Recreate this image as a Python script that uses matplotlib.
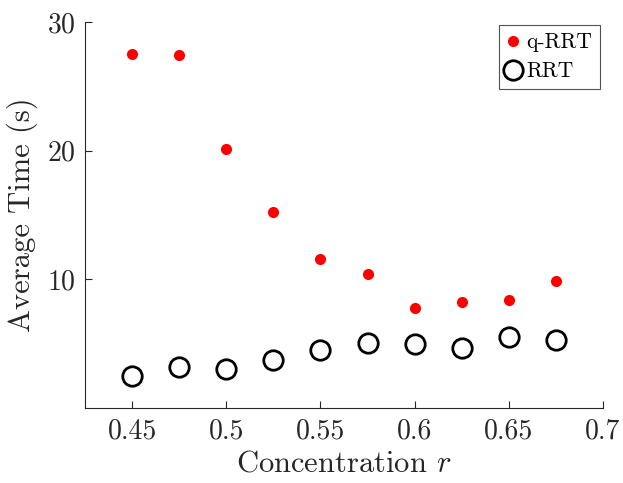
import matplotlib
matplotlib.use("Agg")
import matplotlib.pyplot as plt

plt.rcParams['font.family'] = 'serif'
plt.rcParams['font.serif'] = ['cmr10']
plt.rcParams['mathtext.fontset'] = 'cm'
plt.rcParams['axes.formatter.use_mathtext'] = True

r = [0.45, 0.475, 0.5, 0.525, 0.55, 0.575, 0.6, 0.625, 0.65, 0.675]
q_rrt = [27.55, 27.4, 20.1, 15.2, 11.6, 10.4, 7.8, 8.2, 8.4, 9.85]
rrt = [2.45, 3.15, 3.0, 3.7, 4.5, 5.05, 5.0, 4.65, 5.5, 5.3]

xticks = [0.45, 0.5, 0.55, 0.6, 0.65, 0.7]
xticklabels = ['0.45', '0.5', '0.55', '0.6', '0.65', '0.7']
yticks = [10, 20, 30]

fig = plt.figure(figsize=(6.23, 4.83), dpi=100)
ax = fig.add_axes([0.1364, 0.1553, 0.8315, 0.7992])

ax.plot(r, q_rrt, 'o', color='#ff0000', markersize=8, markeredgewidth=0, label='q-RRT')
ax.plot(r, rrt, 'o', markerfacecolor='none', markeredgecolor='black',
        markersize=14, markeredgewidth=2, label='RRT')

ax.set_xlim(0.425, 0.7)
ax.set_ylim(0, 30)
ax.set_xticks(xticks)
ax.set_xticklabels(xticklabels)
ax.set_yticks(yticks)
ax.tick_params(direction='in', length=5, width=0.8, labelsize=20, colors='#262626',
               pad=7)
for s in ['top', 'right']:
    ax.spines[s].set_visible(False)
for s in ['left', 'bottom']:
    ax.spines[s].set_color('#262626')
    ax.spines[s].set_linewidth(0.8)

ax.set_xlabel('Concentration $r$', fontsize=22, color='#262626', labelpad=4)
ax.set_ylabel('Average Time (s)', fontsize=22, color='#262626', labelpad=6)

leg = ax.legend(loc='upper right', fontsize=15.5, frameon=True, fancybox=False,
                edgecolor='#262626', handlelength=0.6, handletextpad=0.3,
                borderpad=0.35, labelspacing=0.45, borderaxespad=0.15)
leg.get_frame().set_linewidth(0.8)

fig.savefig('out.png', dpi=100)
